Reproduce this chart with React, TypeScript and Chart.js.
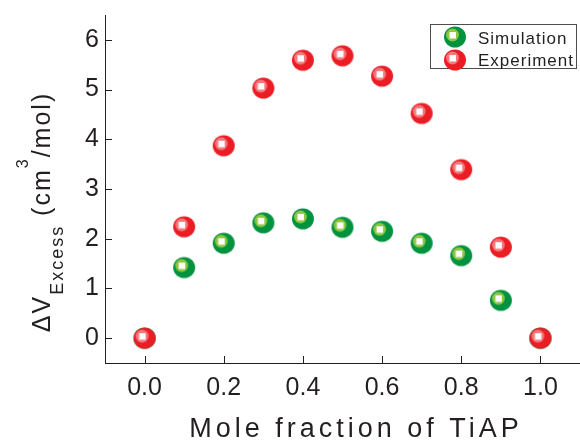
import React, { useEffect, useRef } from "react";
import { Chart, registerables } from "chart.js";

Chart.register(...registerables);

const xValues = [0.0, 0.1, 0.2, 0.3, 0.4, 0.5, 0.6, 0.7, 0.8, 0.9, 1.0];
const simulation = [0, 1.42, 1.91, 2.32, 2.4, 2.23, 2.15, 1.91, 1.66, 0.76, 0];
const experiment = [0, 2.24, 3.87, 5.03, 5.59, 5.68, 5.27, 4.52, 3.39, 1.83, 0];
const xTicks = [0.0, 0.2, 0.4, 0.6, 0.8, 1.0];
const yTicks = [0, 1, 2, 3, 4, 5, 6];
const seriesNames = ["Simulation", "Experiment"];
const xTitle = "Mole fraction of TiAP";

const INK = "#231f20";
const FONT = '"Liberation Sans", Arial, sans-serif';

function makeBall(base: string, light: string): HTMLCanvasElement {
  const c = document.createElement("canvas");
  c.width = 24;
  c.height = 24;
  const g = c.getContext("2d")!;
  g.beginPath();
  g.ellipse(12, 12, 11, 10.6, 0, 0, Math.PI * 2);
  g.fillStyle = base;
  g.fill();
  g.save();
  g.beginPath();
  g.ellipse(12, 12, 11, 10.6, 0, 0, Math.PI * 2);
  g.clip();
  g.beginPath();
  g.arc(9.5, 10, 6.4, 0, Math.PI * 2);
  g.fillStyle = light;
  g.fill();
  g.restore();
  g.fillStyle = "#fbfbfb";
  g.fillRect(6.5, 7, 6.5, 6.5);
  return c;
}

export default function App() {
  const ref = useRef<HTMLCanvasElement | null>(null);

  useEffect(() => {
    if (!ref.current) return;
    const greenBall = makeBall("#00923f", "#8dc63f");
    const redBall = makeBall("#ec1c24", "#f2787c");

    const decor = {
      id: "decor",
      afterDraw(chart: any) {
        const { ctx, chartArea, scales } = chart;
        const { left, bottom } = chartArea;
        const xs = scales.x;
        const ys = scales.y;
        ctx.save();
        ctx.strokeStyle = INK;
        ctx.lineWidth = 1;
        for (const v of xTicks) {
          const px = Math.round(xs.getPixelForValue(v)) + 0.5;
          ctx.beginPath();
          ctx.moveTo(px, bottom);
          ctx.lineTo(px, bottom - 7);
          ctx.stroke();
        }
        for (const v of yTicks) {
          const py = Math.round(ys.getPixelForValue(v)) + 0.5;
          ctx.beginPath();
          ctx.moveTo(left, py);
          ctx.lineTo(left + 7, py);
          ctx.stroke();
        }

        // x title
        ctx.fillStyle = INK;
        ctx.font = `27px ${FONT}`;
        (ctx as any).letterSpacing = "4px";
        ctx.textAlign = "center";
        ctx.textBaseline = "alphabetic";
        ctx.fillText(xTitle, 356, 437);

        // y title
        const segs = [
          { t: "\u0394V", s: 25, dy: 0 },
          { t: "Excess", s: 18, dy: 13 },
          { t: " (cm", s: 25, dy: 0 },
          { t: "3", s: 16, dy: -22 },
          { t: "/mol)", s: 25, dy: 0 },
        ];
        ctx.textAlign = "left";
        (ctx as any).letterSpacing = "2px";
        let total = 0;
        const widths: number[] = [];
        for (const sg of segs) {
          ctx.font = `${sg.s}px ${FONT}`;
          const w = ctx.measureText(sg.t).width;
          widths.push(w);
          total += w;
        }
        ctx.save();
        ctx.translate(50, 212);
        ctx.rotate(-Math.PI / 2);
        let cx = -total / 2;
        segs.forEach((sg, i) => {
          ctx.font = `${sg.s}px ${FONT}`;
          ctx.fillText(sg.t, cx, sg.dy);
          cx += widths[i];
        });
        ctx.restore();

        // legend
        (ctx as any).letterSpacing = "1px";
        ctx.strokeStyle = "#4d4d4d";
        ctx.lineWidth = 1;
        ctx.strokeRect(430.5, 24.5, 146, 44);
        ctx.drawImage(greenBall, 455 - 12, 37 - 12);
        ctx.drawImage(redBall, 455 - 12, 60 - 12);
        ctx.font = `17px ${FONT}`;
        ctx.fillStyle = INK;
        ctx.fillText(seriesNames[0], 478, 44);
        ctx.fillText(seriesNames[1], 478, 66);
        ctx.restore();
      },
    };

    const chart = new Chart(ref.current, {
      type: "scatter",
      data: {
        datasets: [
          {
            label: seriesNames[0],
            data: xValues.map((x, i) => ({ x, y: simulation[i] })),
            pointStyle: greenBall as any,
            pointRadius: 11,
            order: 1,
          },
          {
            label: seriesNames[1],
            data: xValues.map((x, i) => ({ x, y: experiment[i] })),
            pointStyle: redBall as any,
            pointRadius: 11,
            order: 0,
          },
        ],
      },
      options: {
        animation: false,
        responsive: false,
        maintainAspectRatio: false,
        layout: { autoPadding: false, padding: { top: 15, right: 0, left: 0, bottom: 0 } },
        plugins: {
          legend: { display: false },
          tooltip: { enabled: false },
        },
        scales: {
          x: {
            type: "linear",
            min: -0.1,
            max: 1.1,
            afterBuildTicks: (s: any) => {
              s.ticks = xTicks.map((v) => ({ value: v }));
            },
            afterFit: (s: any) => {
              s.height = 78;
              s.paddingLeft = 0;
              s.paddingRight = 0;
            },
            grid: { display: false, drawTicks: false },
            border: { display: true, color: INK, width: 1 },
            ticks: {
              color: INK,
              font: { family: FONT, size: 25 },
              padding: 10,
              maxRotation: 0,
              callback: (v: any) => Number(v).toFixed(1),
            },
          },
          y: {
            type: "linear",
            min: -0.5,
            max: 6.5,
            afterBuildTicks: (s: any) => {
              s.ticks = yTicks.map((v) => ({ value: v }));
            },
            afterFit: (s: any) => {
              s.width = 105;
              s.paddingTop = 0;
              s.paddingBottom = 0;
            },
            grid: { display: false, drawTicks: false },
            border: { display: true, color: INK, width: 1 },
            ticks: {
              color: INK,
              font: { family: FONT, size: 25 },
              padding: 6,
              callback: (v: any) => String(v),
            },
          },
        },
      },
      plugins: [decor],
    });
    return () => chart.destroy();
  }, []);

  return (
    <div style={{ position: "fixed", left: 0, top: 0, width: 580, height: 441, background: "#fff" }}>
      <canvas ref={ref} width={580} height={441} style={{ width: 580, height: 441, display: "block" }} />
    </div>
  );
}
